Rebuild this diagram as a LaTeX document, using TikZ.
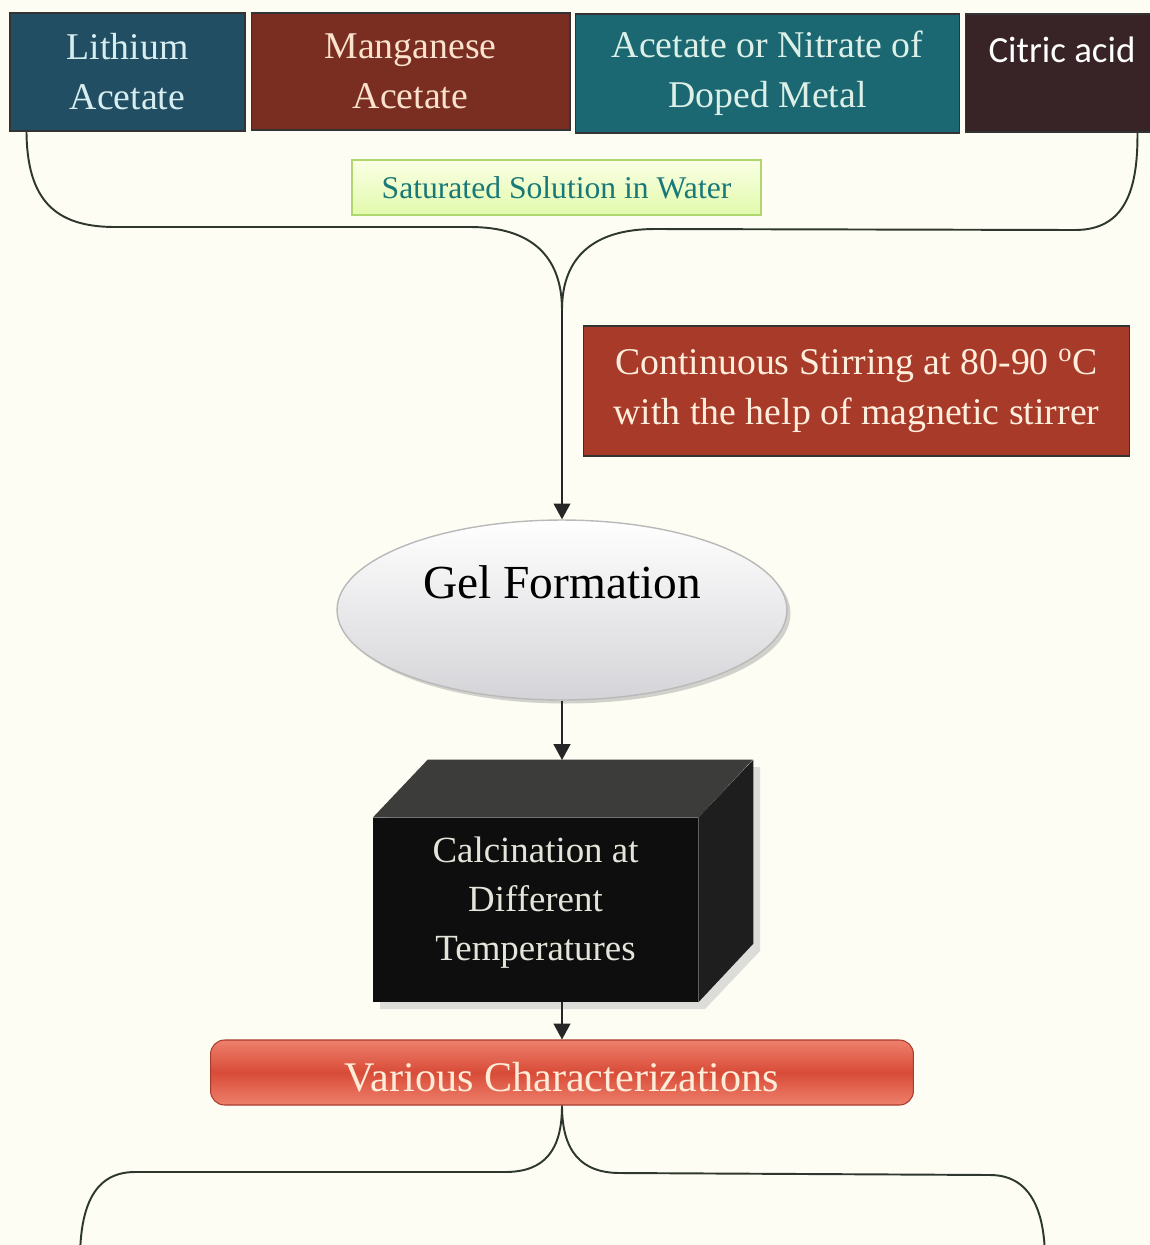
\documentclass[tikz,border=0pt]{standalone}
\usepackage{fontspec}
\setmainfont{Liberation Serif}
\newfontfamily\calibrifont{Carlito}
\usepackage{tikz}
\usetikzlibrary{shapes,arrows.meta,shadows}

\begin{document}
\begin{tikzpicture}[x=0.02cm,y=-0.02cm,
  box/.style={draw=black!80,line width=0.6pt,inner sep=0pt,align=center},
  bigtext/.style={font=\fontsize{21.5}{28.4}\selectfont},
  brace/.style={draw=braceColor,line width=1.1pt},
  flow/.style={draw=black!85,line width=1.1pt,->,>={Triangle[width=9.5pt,length=9pt]}}]
\definecolor{bgColor}{RGB}{253,253,244}
\definecolor{braceColor}{RGB}{45,55,45}
\fill[bgColor] (0,0) rectangle (1150,1245);
\useasboundingbox (0,0) rectangle (1150,1245);
% starting materials
\definecolor{lithColor}{RGB}{33,78,98}
\definecolor{lithText}{RGB}{215,238,240}
\definecolor{mangColor}{RGB}{122,46,34}
\definecolor{mangText}{RGB}{250,226,205}
\definecolor{dopeColor}{RGB}{28,104,114}
\definecolor{dopeText}{RGB}{220,240,232}
\definecolor{citColor}{RGB}{56,36,38}
\node[box,bigtext,fill=lithColor,text=lithText,minimum width=4.7cm,minimum height=2.36cm] (lith) at (127.5,72) {Lithium\\Acetate};
\node[box,bigtext,fill=mangColor,text=mangText,minimum width=6.38cm,minimum height=2.34cm] (mang) at (410.5,71.5) {Manganese\\Acetate};
\node[box,bigtext,fill=dopeColor,text=dopeText,minimum width=7.7cm,minimum height=2.38cm] (dope) at (767.5,73.5) {Acetate or Nitrate of\\Doped Metal};
\node[box,fill=citColor,minimum width=3.9cm,minimum height=2.36cm] (citric) at (1062.5,73) {};
\node[text=white,font=\calibrifont\fontsize{21}{25}\selectfont,inner sep=0pt] (citriclabel) at (1062,50) {Citric acid};
% solution
\definecolor{satTop}{RGB}{250,255,228}
\definecolor{satBottom}{RGB}{226,250,172}
\definecolor{satBorder}{RGB}{175,215,110}
\definecolor{satText}{RGB}{25,120,120}
\node[draw=satBorder,line width=1pt,top color=satTop,bottom color=satBottom,text=satText,inner sep=0pt,minimum width=8.18cm,minimum height=1.1cm,font=\fontsize{18}{22}\selectfont] (sat) at (556.5,187.5) {Saturated Solution in Water};
\coordinate (join) at (562,310);
\draw[brace] ([xshift=0.34cm]lith.south west) .. controls (27,200) and (55,227) .. (115,227) -- (470,227) .. controls (530,227) and (562,255) .. (join);
\draw[brace] (join) .. controls (562,255) and (596,229) .. (655,229) -- (1075,230) .. controls (1125,230) and (1138,190) .. ([xshift=3.46cm]citric.south west);
% stirring
\definecolor{stirColor}{RGB}{168,58,42}
\definecolor{stirText}{RGB}{255,238,220}
\node[box,bigtext,fill=stirColor,text=stirText,minimum width=10.94cm,minimum height=2.6cm] (stir) at (856.5,391) {Continuous Stirring at 80-90 \textsuperscript{o}C\\with the help of magnetic stirrer};
% gel
\definecolor{gelBottom}{RGB}{212,212,216}
\node[ellipse,draw=gray!55,line width=0.8pt,top color=white,bottom color=gelBottom,minimum width=9cm,minimum height=3.6cm,inner sep=0pt,
  drop shadow={opacity=0.35,shadow xshift=2pt,shadow yshift=-2pt},
  text height=0.7cm,text depth=1.15cm,font=\fontsize{27}{30}\selectfont] (gel) at (562,610) {Gel Formation};
\draw[flow] (join) -- (gel.north);
% calcination block
\definecolor{calcFront}{RGB}{14,14,14}
\definecolor{calcTop}{RGB}{60,60,58}
\definecolor{calcSide}{RGB}{30,30,30}
\definecolor{calcText}{RGB}{228,228,218}
\fill[gray!45,opacity=0.6] (380,825) -- (435,767) -- (760,767) -- (760,951) -- (705,1009) -- (380,1009) -- cycle;
\node[fill=calcFront,minimum width=6.5cm,minimum height=3.68cm,inner sep=0pt,text=calcText,align=center,text depth=0.44cm,font=\fontsize{21}{27.9}\selectfont] (calc) at (535.5,910) {Calcination at\\Different\\Temperatures};
\fill[calcTop] (calc.north west) -- ++(55,-58) -- ++(325,0) -- (calc.north east) -- cycle;
\fill[calcSide] (calc.north east) -- ++(55,-58) -- ++(0,184) -- (calc.south east) -- cycle;
\coordinate (calctop) at (562,760);
\coordinate (calcbot) at (562,1002);
\draw[flow] (gel.south) -- (calctop);
% characterizations
\definecolor{varLight}{RGB}{238,128,108}
\definecolor{varMid}{RGB}{216,76,56}
\definecolor{varBorder}{RGB}{170,60,45}
\definecolor{varText}{RGB}{255,236,216}
\node[draw=varBorder,line width=0.6pt,rounded corners=8pt,top color=varLight,bottom color=varLight,middle color=varMid,text=varText,inner sep=0pt,minimum width=14.06cm,minimum height=1.3cm,text height=0.78cm,font=\fontsize{24}{28}\selectfont] (various) at (562,1072.5) {Various Characterizations};
\draw[flow] (calcbot) -- (various.north);
\draw[brace] (various.south) .. controls (562,1150) and (545,1172) .. (505,1172) -- (135,1172) .. controls (95,1172) and (80,1205) .. (80,1260);
\draw[brace] (various.south) .. controls (562,1150) and (580,1173) .. (620,1173) -- (990,1175) .. controls (1030,1175) and (1045,1210) .. (1045,1260);
\end{tikzpicture}
\end{document}
